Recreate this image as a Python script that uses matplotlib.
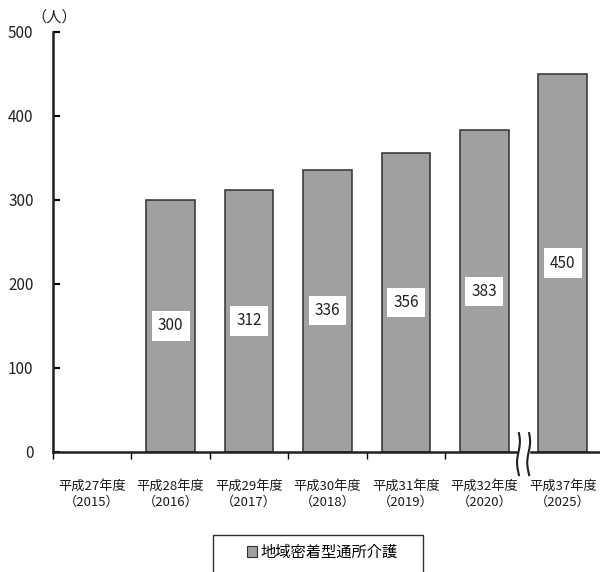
import matplotlib
matplotlib.use("Agg")
import matplotlib.pyplot as plt
import numpy as np
from matplotlib.patches import Rectangle

plt.rcParams['font.family'] = ['Noto Sans CJK JP', 'DejaVu Sans']

categories = ["平成27年度\n（2015）", "平成28年度\n（2016）", "平成29年度\n（2017）",
              "平成30年度\n（2018）", "平成31年度\n（2019）", "平成32年度\n（2020）",
              "平成37年度\n（2025）"]
values = [None, 300, 312, 336, 356, 383, 450]
series_name = "地域密着型通所介護"
yticks = [0, 100, 200, 300, 400, 500]

fig = plt.figure(figsize=(6.0, 5.72), dpi=100)
ax = fig.add_axes([53/600, 1-452/572, 549/600, 420/572])

x = np.arange(len(categories))
bar_x = [xi for xi, v in zip(x, values) if v is not None]
bar_v = [v for v in values if v is not None]
ax.bar(bar_x, bar_v, width=0.62, color="#A0A0A0", edgecolor="#303030", linewidth=1.1,
       label=series_name, zorder=2)
for xi, v in zip(bar_x, bar_v):
    ax.text(xi, v/2, str(v), ha="center", va="center", fontsize=11, color="#222222",
            bbox=dict(boxstyle="square,pad=0.4", fc="white", ec="none"), zorder=3)

ax.set_xlim(-0.5, len(categories)-0.5)
ax.set_ylim(0, 500)
ax.set_yticks(yticks)
ax.set_yticklabels([str(t) for t in yticks], fontsize=11, color="#222222")
ax.tick_params(axis="y", direction="in", length=5, width=1.5, pad=14)
ax.set_xticks(x)
ax.set_xticklabels(categories, fontsize=9.5, color="#1a1a1a", linespacing=1.3)
ax.tick_params(axis="x", length=0, pad=20)
ax.set_xticks(np.arange(-0.5, 5.0, 1.0), minor=True)
ax.tick_params(axis="x", which="minor", direction="out", length=5, width=1.0)

for s in ["top", "right"]:
    ax.spines[s].set_visible(False)
ax.spines["left"].set_linewidth(1.8)
ax.spines["bottom"].set_linewidth(1.8)
ax.spines["left"].set_color("#202020")
ax.spines["bottom"].set_color("#202020")

# axis break
trans = ax.get_xaxis_transform()
bx = 5.5
dx = 0.065
ax.add_patch(Rectangle((bx-dx, -0.02), 2*dx, 0.04, transform=trans, color="white",
                       zorder=5, clip_on=False))
t = np.linspace(-0.055, 0.045, 50)
for off in (-dx, dx):
    ax.plot(bx + off + 0.018*np.sin(t/0.1*2*np.pi), t, transform=trans, color="#202020",
            lw=1.5, zorder=6, clip_on=False)

fig.text(54/600, 1-17/572, "（人）", fontsize=11, ha="center", va="center", color="#222222")

# legend: frame drawn separately (reference box is cut by the bottom edge)
fig.patches.append(Rectangle((213/600, -0.05), 210/600, 0.05 + (572-535)/572,
                             transform=fig.transFigure, fill=False, ec="#303030", lw=1.0))
leg = fig.legend(loc="center", bbox_to_anchor=(322/600, 1-552/572), fontsize=11,
                 frameon=False, handlelength=0.7, handleheight=0.7, handletextpad=0.2,
                 borderpad=0.2, borderaxespad=0)
for h in leg.legend_handles:
    h.set_linewidth(0.8)

fig.savefig("out.png", dpi=100)
